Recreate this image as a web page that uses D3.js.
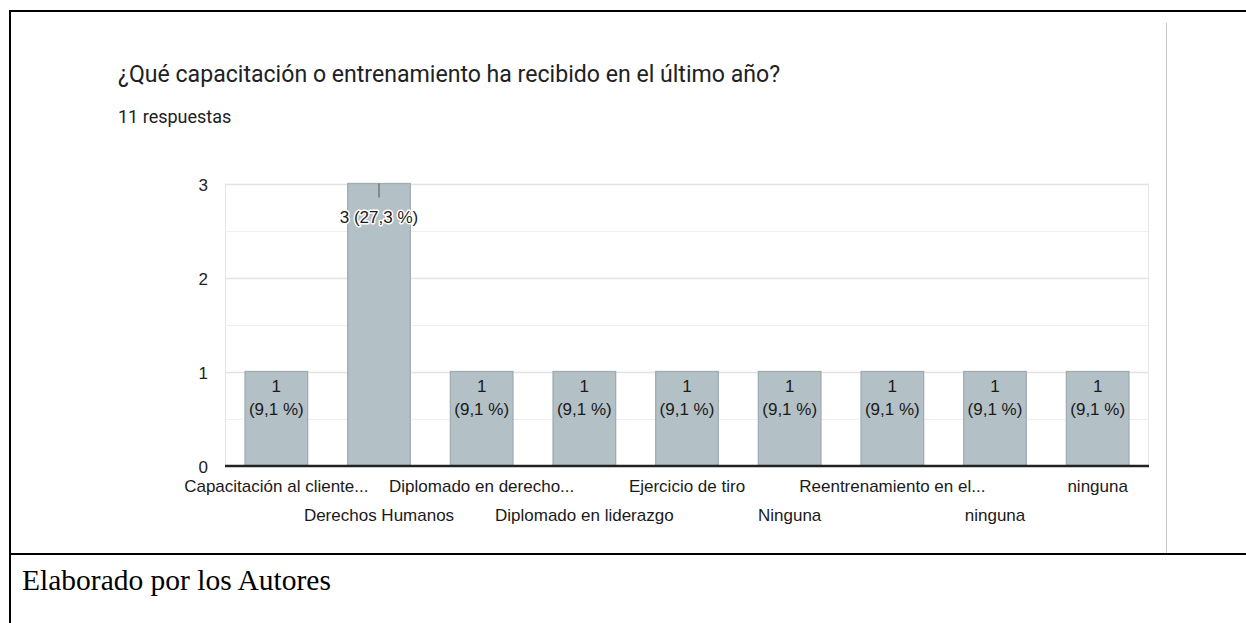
<!DOCTYPE html>
<html>
<head>
<meta charset="utf-8">
<script src="https://cdn.jsdelivr.net/npm/d3@7"></script>
<style>
  html, body { margin: 0; padding: 0; background: #fff; }
  svg { display: block; }
</style>
</head>
<body>
<svg id="chart" width="1246" height="623"></svg>
<script>
const title = "¿Qué capacitación o entrenamiento ha recibido en el último año?";
const subtitle = "11 respuestas";
const categories = ["Capacitación al cliente...", "Derechos Humanos", "Diplomado en derecho...", "Diplomado en liderazgo", "Ejercicio de tiro", "Ninguna", "Reentrenamiento en el...", "ninguna", "ninguna"];
const values = [1, 3, 1, 1, 1, 1, 1, 1, 1];
const percents = ["9,1 %", "27,3 %", "9,1 %", "9,1 %", "9,1 %", "9,1 %", "9,1 %", "9,1 %", "9,1 %"];
const yTicks = [0, 1, 2, 3];
const caption = "Elaborado por los Autores";

const svg = d3.select("#chart");
const sans = "'Liberation Sans', Arial, sans-serif";

// outer table borders
svg.append("line").attr("x1", 10).attr("x2", 1246).attr("y1", 11).attr("y2", 11).attr("stroke", "#000").attr("stroke-width", 2);
svg.append("line").attr("x1", 10).attr("x2", 10).attr("y1", 10).attr("y2", 623).attr("stroke", "#000").attr("stroke-width", 2);
svg.append("line").attr("x1", 10).attr("x2", 1246).attr("y1", 554).attr("y2", 554).attr("stroke", "#000").attr("stroke-width", 2);
// grey screenshot edge
svg.append("line").attr("x1", 1166.5).attr("x2", 1166.5).attr("y1", 23).attr("y2", 553).attr("stroke", "#c8c8c8").attr("stroke-width", 1);

// titles
svg.append("text").attr("x", 118).attr("y", 82).text(title)
  .attr("font-family", "Roboto, sans-serif").attr("font-size", 23.1).attr("fill", "#202124");
svg.append("text").attr("x", 118).attr("y", 123).text(subtitle)
  .attr("font-family", "Roboto, sans-serif").attr("font-size", 18).attr("fill", "#202124");

const x = d3.scaleBand().domain(d3.range(categories.length)).range([225, 1149]).paddingInner(0.39).paddingOuter(0.195);
const y = d3.scaleLinear().domain([0, 3]).range([465.5, 183.5]);

// grid
const g = svg.append("g");
g.selectAll("line.minor").data(d3.range(0.5, 3.01, 0.5)).join("line")
  .attr("x1", 225).attr("x2", 1149)
  .attr("y1", d => Math.round(y(d)) + 0.5).attr("y2", d => Math.round(y(d)) + 0.5)
  .attr("stroke", d => Number.isInteger(d) ? "#e3e3e3" : "#efefef").attr("stroke-width", d => Number.isInteger(d) ? 1.5 : 1);
g.append("line").attr("x1", 225.5).attr("x2", 225.5).attr("y1", y(3)).attr("y2", y(0)).attr("stroke", "#e6e6e6");
g.append("line").attr("x1", 1148.5).attr("x2", 1148.5).attr("y1", y(3)).attr("y2", y(0)).attr("stroke", "#e6e6e6");

// y axis
const yAxis = d3.axisLeft(y).tickValues(yTicks).tickSize(0).tickPadding(0).tickFormat(d3.format("d"));
const ya = svg.append("g").attr("transform", "translate(208,0)").call(yAxis);
ya.select(".domain").remove();
ya.selectAll("text").attr("font-family", sans).attr("font-size", 17).attr("fill", "#222").attr("dy", "0.4em");

// bars
svg.selectAll("rect.bar").data(values).join("rect").attr("class", "bar")
  .attr("x", (d, i) => x(i)).attr("width", x.bandwidth())
  .attr("y", d => y(d)).attr("height", d => y(0) - y(d))
  .attr("fill", "#b3c0c6").attr("stroke", "#9fadb3").attr("stroke-width", 1.3);

// x axis
svg.append("line").attr("x1", 225).attr("x2", 1149).attr("y1", 466).attr("y2", 466).attr("stroke", "#222").attr("stroke-width", 2.5);

// x labels staggered
svg.selectAll("text.xl").data(categories).join("text").attr("class", "xl")
  .attr("x", (d, i) => x(i) + x.bandwidth() / 2)
  .attr("y", (d, i) => i % 2 === 0 ? 492 : 521)
  .attr("text-anchor", "middle").text(d => d)
  .attr("font-family", sans).attr("font-size", 17).attr("fill", "#1a1a1a");

// value labels
const lab = svg.append("g").attr("font-family", sans).attr("font-size", 17).attr("fill", "#1a1a1a").attr("text-anchor", "middle");
values.forEach((v, i) => {
  const cx = x(i) + x.bandwidth() / 2;
  if (v >= 2) {
    lab.append("line").attr("x1", cx).attr("x2", cx).attr("y1", y(v)).attr("y2", y(v) + 14).attr("stroke", "#555").attr("stroke-width", 1);
    lab.append("text").attr("x", cx).attr("y", y(v) + 39).text(v + " (" + percents[i] + ")")
      .attr("stroke", "#fff").attr("stroke-width", 3).attr("paint-order", "stroke").attr("stroke-linejoin", "round");
  } else {
    lab.append("text").attr("x", cx).attr("y", y(v) + 20).text(v);
    lab.append("text").attr("x", cx).attr("y", y(v) + 43).text("(" + percents[i] + ")");
  }
});

// caption
svg.append("text").attr("x", 22).attr("y", 590).text(caption)
  .attr("font-family", "'Liberation Serif', 'Times New Roman', serif").attr("font-size", 29.5).attr("fill", "#000");
</script>
</body>
</html>
